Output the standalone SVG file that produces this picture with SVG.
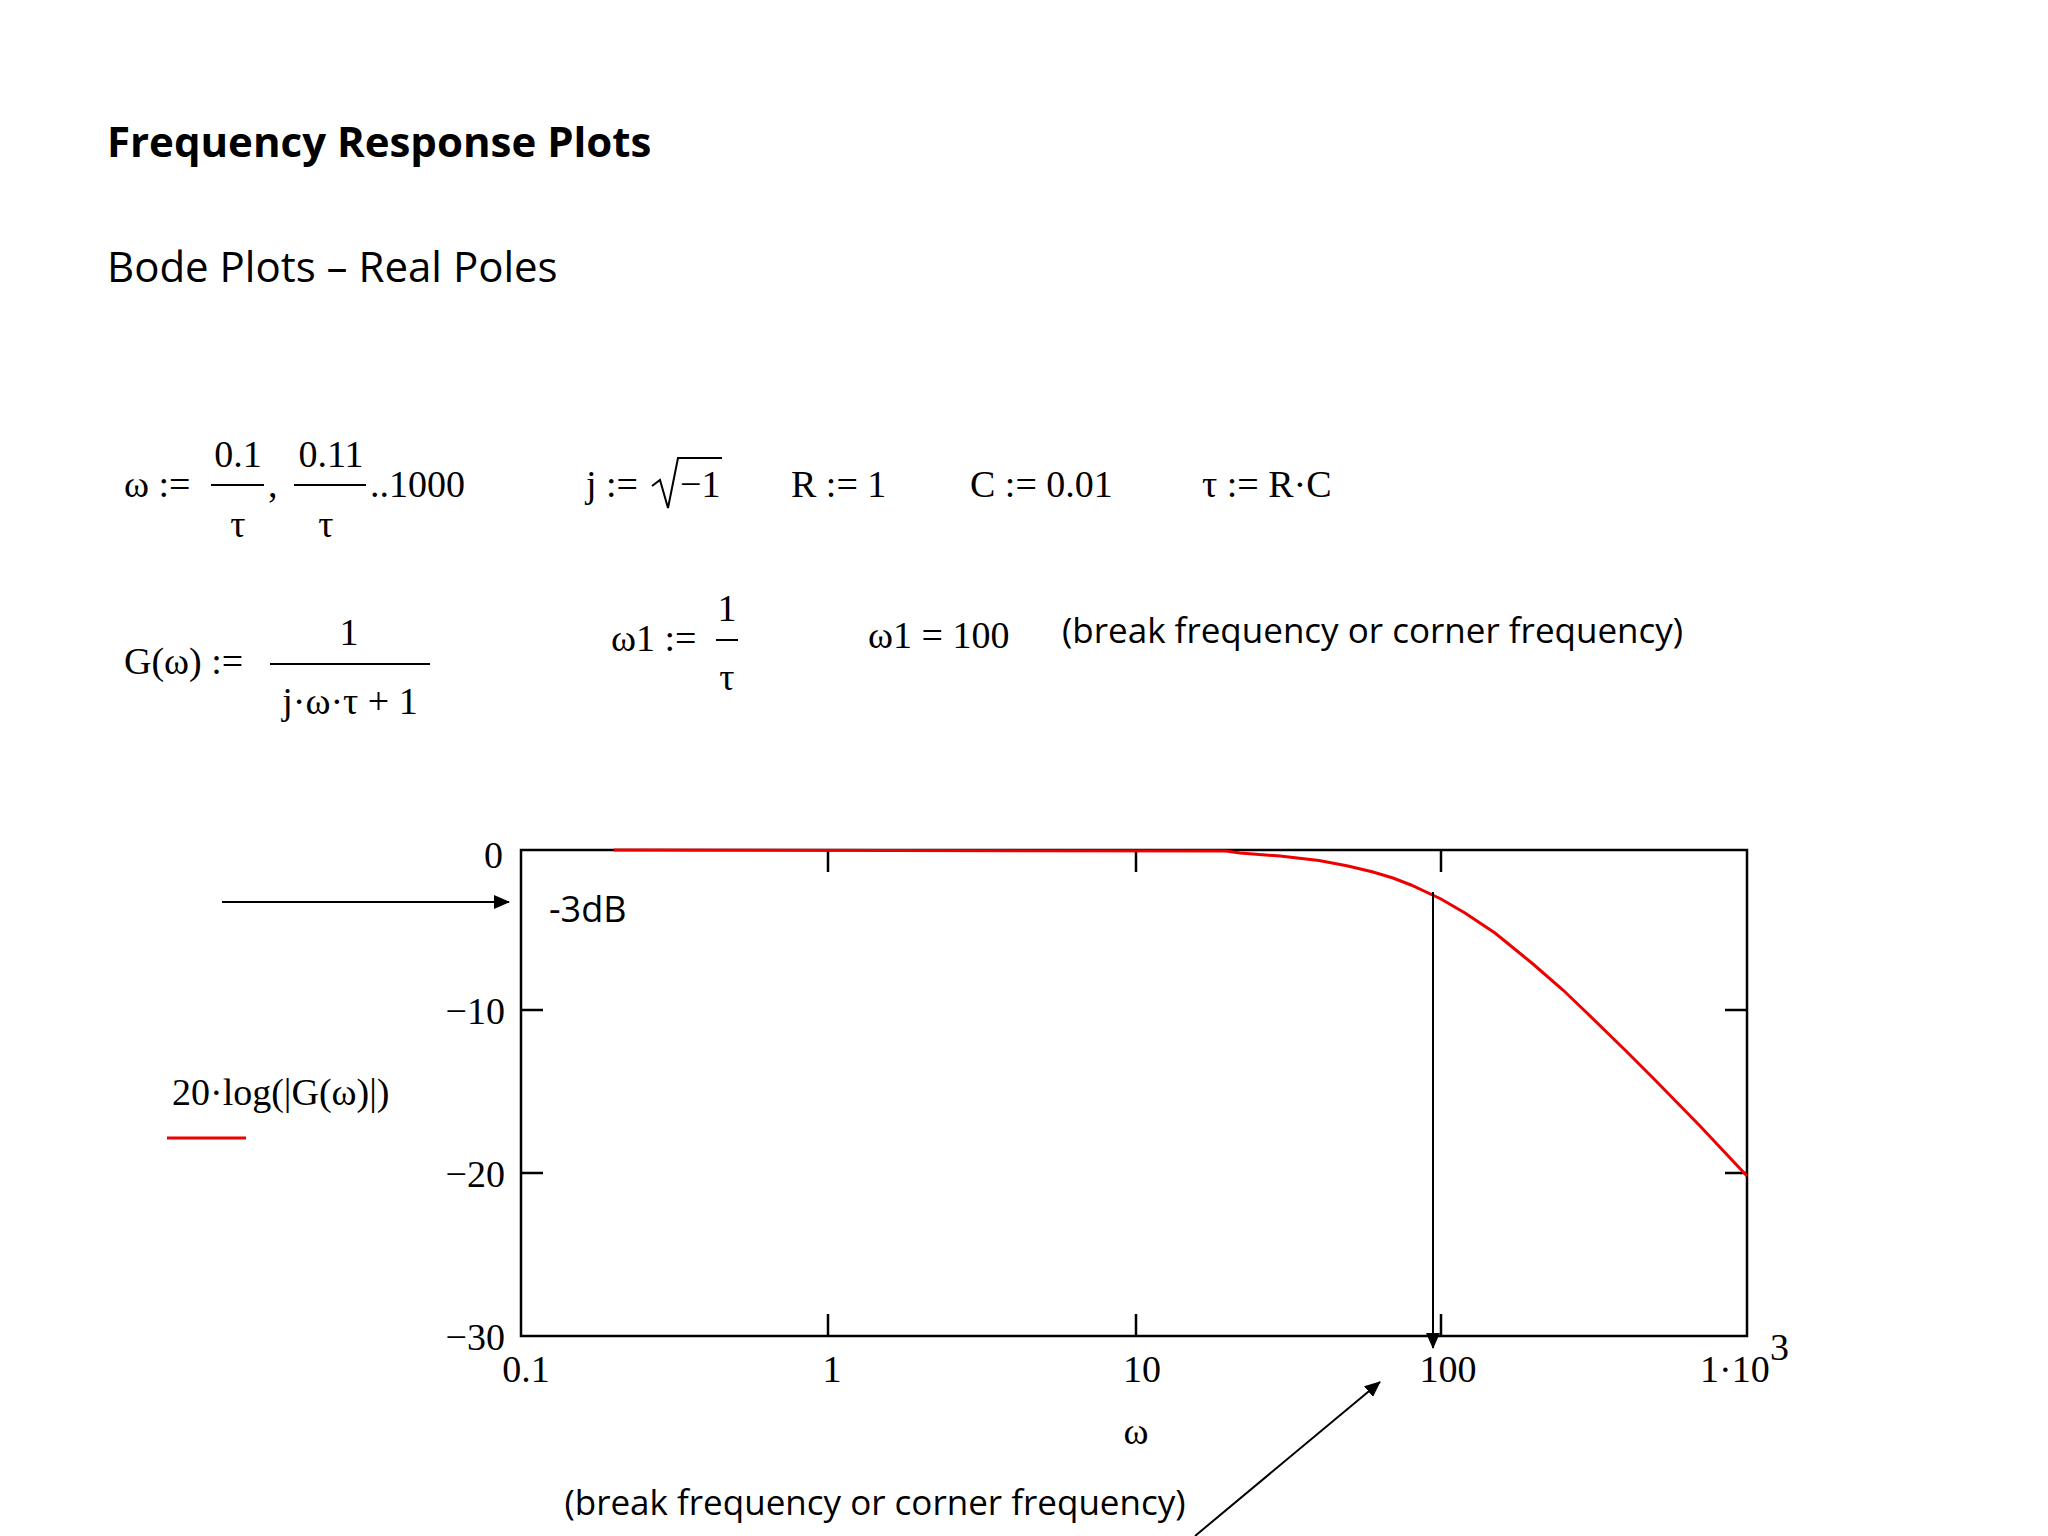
<svg xmlns="http://www.w3.org/2000/svg" width="2048" height="1536" viewBox="0 0 2048 1536">
<style>
.s{font-family:"Open Sans","Liberation Sans",sans-serif;fill:#000}
.m{font-family:"Liberation Serif",serif;font-size:38px;fill:#000}
.ax{stroke:#000;stroke-width:2.5;fill:none}
.ln{stroke:#000;stroke-width:2;fill:none}
</style>
<defs><marker id="ah2" markerWidth="16" markerHeight="14" refX="15" refY="7" orient="auto" markerUnits="userSpaceOnUse"><path d="M0,0 L16,7 L0,14 z" fill="#000"/></marker></defs>
<rect width="2048" height="1536" fill="#fff"/>
<text class="s" x="107" y="157" font-size="42" font-weight="bold">Frequency Response Plots</text>
<text class="s" x="107" y="282" font-size="42">Bode Plots – Real Poles</text>
<g id="defs-row1">
<text class="m" x="124" y="497">ω :=</text>
<text class="m" x="238" y="467" text-anchor="middle">0.1</text><line class="ln" x1="211" y1="485" x2="264" y2="485"/><text class="m" x="238" y="537" text-anchor="middle">τ</text>
<text class="m" x="268" y="497">,</text>
<text class="m" x="331" y="467" text-anchor="middle">0.11</text><line class="ln" x1="294" y1="485" x2="366" y2="485"/><text class="m" x="326" y="537" text-anchor="middle">τ</text>
<text class="m" x="370" y="497">..1000</text>
<text class="m" x="586" y="497">j :=</text>
<path class="ln" d="M652,486 L660,480 L668,508 L678,458 L722,458"/>
<text class="m" x="680" y="497">−1</text>
<text class="m" x="791" y="497">R := 1</text>
<text class="m" x="970" y="497">C := 0.01</text>
<text class="m" x="1202" y="497">τ := R·C</text>
</g>
<g id="defs-row2">
<text class="m" x="124" y="674">G(ω) :=</text>
<text class="m" x="349" y="645" text-anchor="middle">1</text><line class="ln" x1="270" y1="664" x2="430" y2="664"/><text class="m" x="350" y="714" text-anchor="middle">j·ω·τ + 1</text>
<text class="m" x="611" y="651">ω1 :=</text>
<text class="m" x="727" y="621" text-anchor="middle">1</text><line class="ln" x1="716" y1="640" x2="738" y2="640"/><text class="m" x="727" y="690" text-anchor="middle">τ</text>
<text class="m" x="868" y="648">ω1 = 100</text>
<text class="s" x="1062" y="643" font-size="35">(break frequency or corner frequency)</text>
</g>
<g id="plot">
<rect class="ax" x="521" y="850" width="1226" height="486"/>
<g class="ax">
<path d="M828,850v22M1136,850v22M1441,850v22M828,1336v-22M1136,1336v-22M1441,1336v-22M521,1010h22M521,1173h22M1747,1010h-22M1747,1173h-22"/>
</g>
<polyline fill="none" stroke="#e00" stroke-width="3" points="614,850 1226,851 1240,853 1280,856 1319,860.5 1348,866 1373,872 1393,878 1411,885 1441,899 1465,913 1495,933 1533,964 1563,990 1587,1013 1625,1050 1655,1080 1700,1126 1747,1176"/>
<text class="m" x="503" y="868" text-anchor="end">0</text>
<text class="m" x="505" y="1024" text-anchor="end">−10</text>
<text class="m" x="505" y="1187" text-anchor="end">−20</text>
<text class="m" x="505" y="1350" text-anchor="end">−30</text>
<text class="m" x="526" y="1382" text-anchor="middle">0.1</text>
<text class="m" x="832" y="1382" text-anchor="middle">1</text>
<text class="m" x="1142" y="1382" text-anchor="middle">10</text>
<text class="m" x="1448" y="1382" text-anchor="middle">100</text>
<text class="m" x="1700" y="1382">1·10</text><text class="m" x="1770" y="1360" font-size="28">3</text>
<text class="m" x="1136" y="1444" text-anchor="middle">ω</text>
<text class="m" x="172" y="1105">20·log(|G(ω)|)</text>
<line x1="167" y1="1138" x2="246" y2="1138" stroke="#e00" stroke-width="3"/>
<text class="s" x="549" y="922" font-size="36">-3dB</text>
<text class="s" x="875" y="1515" font-size="35" text-anchor="middle">(break frequency or corner frequency)</text>
</g>
<g id="connectors">
<line class="ln" x1="222" y1="902" x2="509" y2="902" marker-end="url(#ah2)"/>
<line class="ln" x1="1433" y1="892" x2="1433" y2="1348" marker-end="url(#ah2)"/>
<line class="ln" x1="1195" y1="1536" x2="1380" y2="1382" marker-end="url(#ah2)"/>
</g>
</svg>
